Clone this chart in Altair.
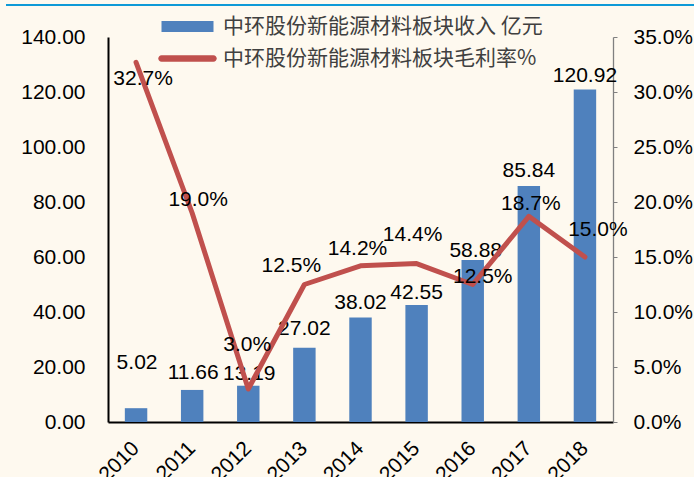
import altair as alt
import pandas as pd

# ---- data ----
years = ["2010", "2011", "2012", "2013", "2014", "2015", "2016", "2017", "2018"]
revenue = [5.02, 11.66, 13.19, 27.02, 38.02, 42.55, 58.88, 85.84, 120.92]
margin = [0.327, 0.190, 0.030, 0.125, 0.142, 0.144, 0.125, 0.187, 0.150]
bar_name = "中环股份新能源材料板块收入 亿元"
line_name = "中环股份新能源材料板块毛利率%"
left_ticks = [0, 20, 40, 60, 80, 100, 120, 140]
right_ticks = [0, 0.05, 0.10, 0.15, 0.20, 0.25, 0.30, 0.35]

# label nudges (pixels) as in the reference
bar_dx = [1, 1, 1, 0, 0, 0, 3, 0, 0]
bar_dy = [-45, -17, -12, -19, -14, -12, -9, -15, -13]
line_dx = [7, 6, -1, -13, -3, -4, 10, 2, 13]
line_dy = [17, -13, -44, -19, -17, -29, -8, -12, -27]

BLUE = "#4F81BD"
RED = "#C0504D"
BG = "#FEF9EF"
NUM_FONT = "Liberation Sans, Arial, Noto Sans CJK SC"
CJK_FONT = "Noto Sans CJK SC"

df = pd.DataFrame({"year": years, "revenue": revenue, "margin": margin})
base = alt.Chart(df)

x_enc = alt.X(
    "year:N",
    sort=years,
    scale=alt.Scale(paddingInner=0.6, paddingOuter=0.3),
    axis=alt.Axis(
        title=None, labelAngle=-45, labelAlign="right", labelBaseline="middle",
        labelPadding=23, ticks=False, tickSize=0, domainColor="black",
        domainWidth=2, labelFontSize=21, labelColor="black", labelFont=NUM_FONT,
    ),
)
y_bar = alt.Y(
    "revenue:Q",
    scale=alt.Scale(domain=[0, 140], nice=False),
    axis=alt.Axis(
        title=None, orient="left", values=left_ticks, format=".2f", grid=False,
        ticks=False, tickSize=0, domainColor="black", domainWidth=2,
        labelPadding=23, labelFontSize=21, labelColor="black", labelFont=NUM_FONT,
    ),
)
y_line = alt.Y(
    "margin:Q",
    scale=alt.Scale(domain=[0, 0.35], nice=False),
    axis=alt.Axis(
        title=None, orient="right", values=right_ticks, format=".1%", grid=False,
        ticks=True, tickSize=4, tickColor="#808080", domainColor="#808080",
        domainWidth=1.3, labelPadding=16, labelFontSize=21, labelColor="black",
        labelFont=NUM_FONT,
    ),
)

bars = base.mark_bar(color=BLUE).encode(x=x_enc, y=y_bar)
bar_labels = [
    base.transform_filter(alt.datum.year == yr)
    .mark_text(dx=bar_dx[i], dy=bar_dy[i], fontSize=21, font=NUM_FONT,
               color="black", align="center", baseline="middle")
    .encode(x=x_enc, y=y_bar, text=alt.Text("revenue:Q", format=".2f"))
    for i, yr in enumerate(years)
]

line = base.mark_line(color=RED, strokeWidth=5, strokeCap="round",
                      strokeJoin="round").encode(x=x_enc, y=y_line)
line_labels = [
    base.transform_filter(alt.datum.year == yr)
    .mark_text(dx=line_dx[i], dy=line_dy[i], fontSize=21, font=NUM_FONT,
               color="black", align="center", baseline="middle")
    .encode(x=x_enc, y=y_line, text=alt.Text("margin:Q", format=".1%"))
    for i, yr in enumerate(years)
]

bar_layer = alt.layer(bars, *bar_labels)
line_layer = alt.layer(line, *line_labels)

# legend
rect_path = "M-2.6,-0.55H2.6V0.55H-2.6Z"
line_path = ("M-2.6,-0.32H2.6A0.32,0.32 0 0 1 2.6,0.32H-2.6"
             "A0.32,0.32 0 0 1 -2.6,-0.32Z")
leg = alt.Legend(
    orient="none", legendX=69, legendY=-21, title=None, symbolSize=400,
    symbolStrokeWidth=0, symbolOpacity=1, labelFontSize=21, labelFont=CJK_FONT,
    labelColor="#404040", labelOffset=25, rowPadding=10, labelLimit=600,
    padding=0, direction="vertical",
)
leg_df = pd.DataFrame({"series": [bar_name, line_name]})
legend_layer = alt.Chart(leg_df).mark_point(filled=True, opacity=0).encode(
    shape=alt.Shape("series:N", sort=[bar_name, line_name],
                    scale=alt.Scale(domain=[bar_name, line_name],
                                    range=[rect_path, line_path]), legend=leg),
    color=alt.Color("series:N", sort=[bar_name, line_name],
                    scale=alt.Scale(domain=[bar_name, line_name],
                                    range=[BLUE, RED]), legend=leg),
)

top_rule = alt.Chart(pd.DataFrame({"a": [0]})).mark_rule(
    color="#0E9AD7", strokeWidth=2
).encode(x=alt.value(-102), x2=alt.value(586), y=alt.value(-32))

chart = (
    alt.layer(bar_layer, line_layer, legend_layer, top_rule)
    .resolve_scale(y="independent")
    .properties(
        width=505, height=385,
        autosize=alt.AutoSizeParams(type="none"),
        padding={"left": 108, "top": 37, "right": 81, "bottom": 55},
        background=BG,
    )
    .configure_view(stroke=None)
)

chart.save("out.html", embed_options={"renderer": "svg", "actions": False})
